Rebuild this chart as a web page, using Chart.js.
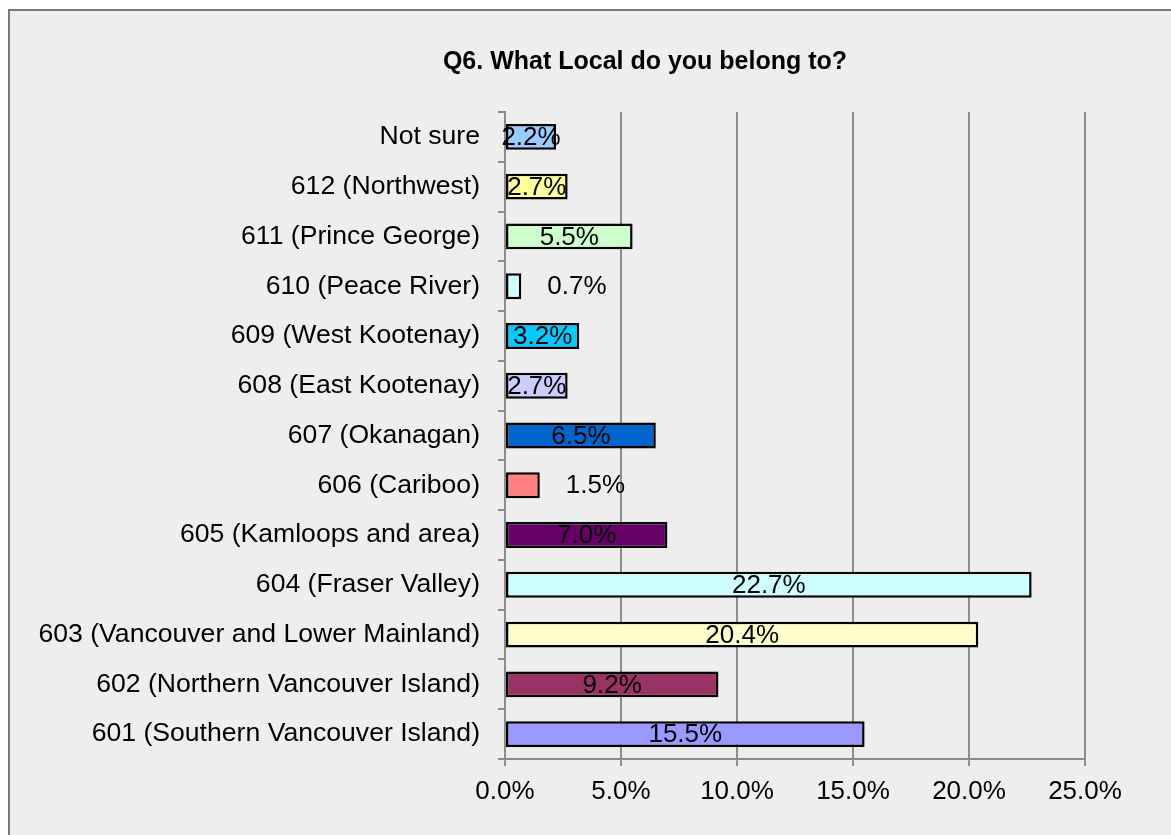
<!DOCTYPE html>
<html>
<head>
<meta charset="utf-8">
<script src="https://cdn.jsdelivr.net/npm/chart.js@4"></script>
<style>
    html, body { margin: 0; padding: 0; background: #fff; }
    #wrap { width: 1171px; height: 835px; position: relative; }
</style>
</head>
<body>
<div id="wrap"><canvas id="localChart"></canvas></div>
<script>
// Q6 survey results, top row first
const categories = [
    'Not sure',
    '612 (Northwest)',
    '611 (Prince George)',
    '610 (Peace River)',
    '609 (West Kootenay)',
    '608 (East Kootenay)',
    '607 (Okanagan)',
    '606 (Cariboo)',
    '605 (Kamloops and area)',
    '604 (Fraser Valley)',
    '603 (Vancouver and Lower Mainland)',
    '602 (Northern Vancouver Island)',
    '601 (Southern Vancouver Island)'
];
const percents = [2.2, 2.7, 5.5, 0.7, 3.2, 2.7, 6.5, 1.5, 7.0, 22.7, 20.4, 9.2, 15.5];
const barColors = [
    '#99CCFF', '#FFFF99', '#CCFFCC', '#CCFFFF', '#00CCFF', '#CCCCFF', '#0066CC',
    '#FF8080', '#660066', '#CCFFFF', '#FFFFCC', '#993366', '#9999FF'
];
const xTicks = [0, 5, 10, 15, 20, 25];
const chartTitle = 'Q6. What Local do you belong to?';

const FONT = '"Liberation Sans", Arial, sans-serif';
const GRID = '#8c8c8c';

// frame, grey fill and title
const framePlugin = {
    id: 'frame',
    beforeDraw(chart) {
        const ctx = chart.ctx;
        ctx.save();
        ctx.fillStyle = '#ffffff';
        ctx.fillRect(0, 0, chart.width, chart.height);
        ctx.fillStyle = '#eeeeee';
        ctx.fillRect(9, 10, chart.width, chart.height);
        ctx.strokeStyle = '#7a7a7a';
        ctx.lineWidth = 2;
        ctx.beginPath();
        ctx.moveTo(9, chart.height + 5);
        ctx.lineTo(9, 10);
        ctx.lineTo(chart.width + 5, 10);
        ctx.stroke();

        ctx.fillStyle = '#000';
        ctx.font = 'bold 25px ' + FONT;
        ctx.textAlign = 'center';
        ctx.textBaseline = 'middle';
        ctx.fillText(chartTitle, 645, 62);
        ctx.restore();
    }
};

// percent labels on the bars, small ones pushed outside
const valueLabels = {
    id: 'valueLabels',
    afterDatasetsDraw(chart) {
        const ctx = chart.ctx;
        const meta = chart.getDatasetMeta(0);
        ctx.save();
        ctx.font = '26px ' + FONT;
        ctx.fillStyle = '#000';
        ctx.textBaseline = 'middle';
        meta.data.forEach((bar, i) => {
            const v = percents[i];
            const txt = v.toFixed(1) + '%';
            if (v < 2) {
                ctx.textAlign = 'left';
                ctx.fillText(txt, bar.x + 26, bar.y + 1);
            } else {
                ctx.textAlign = 'center';
                ctx.fillText(txt, (bar.x + bar.base) / 2, bar.y + 1);
            }
        });
        ctx.restore();
    }
};

new Chart(document.getElementById('localChart'), {
    type: 'bar',
    data: {
        labels: categories,
        datasets: [{
            data: percents,
            backgroundColor: barColors,
            borderColor: '#000',
            borderWidth: 2.5,
            borderSkipped: false,
            categoryPercentage: 0.52,
            barPercentage: 1
        }]
    },
    options: {
        indexAxis: 'y',
        responsive: true,
        maintainAspectRatio: false,
        devicePixelRatio: 1,
        animation: false,
        layout: { padding: { top: 112, right: 86, left: 0, bottom: 0 } },
        plugins: {
            legend: { display: false },
            tooltip: { enabled: false }
        },
        scales: {
            x: {
                min: 0,
                max: 25,
                afterBuildTicks: (scale) => { scale.ticks = xTicks.map(v => ({ value: v })); },
                afterFit: (scale) => { scale.height = 76; },
                ticks: {
                    color: '#000',
                    font: { family: FONT, size: 26 },
                    padding: 10,
                    callback: (v) => Number(v).toFixed(1) + '%'
                },
                grid: { color: GRID, lineWidth: 2, tickLength: 7 },
                border: { color: GRID, width: 2 }
            },
            y: {
                afterFit: (scale) => { scale.width = 505; },
                ticks: {
                    color: '#000',
                    font: { family: FONT, size: 26.6 },
                    padding: 18
                },
                grid: { offset: true, drawOnChartArea: false, color: GRID, lineWidth: 2, tickLength: 7 },
                border: { color: GRID, width: 2 }
            }
        }
    },
    plugins: [framePlugin, valueLabels]
});
</script>
</body>
</html>
